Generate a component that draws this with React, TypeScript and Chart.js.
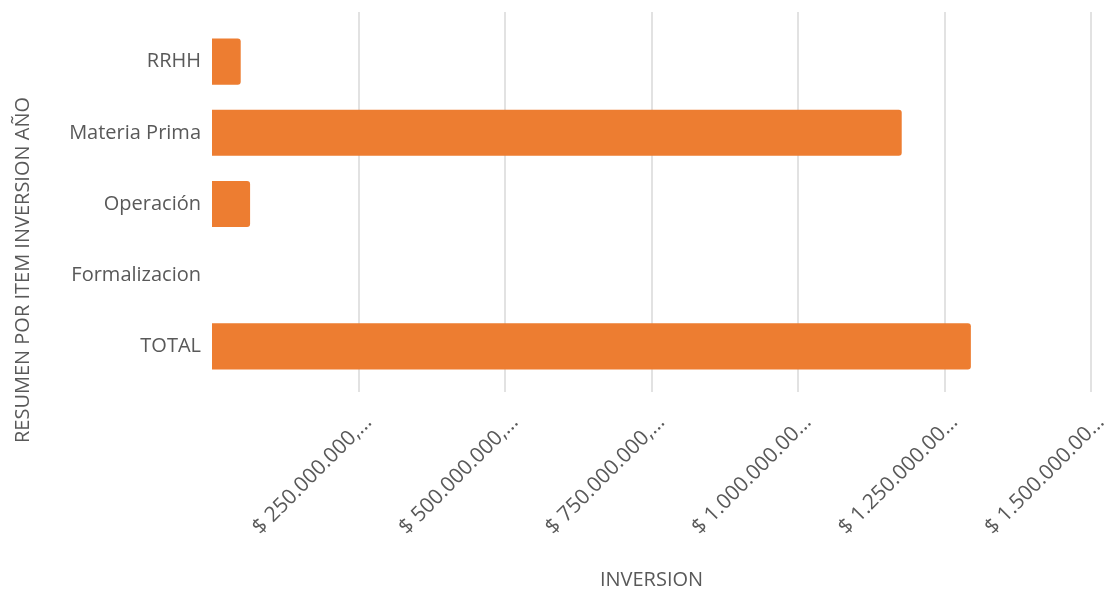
import React, { useEffect, useRef } from 'react';
import { Chart, registerables } from 'chart.js';

Chart.register(...registerables);

// ---- Data ----
const categories: string[] = ['RRHH', 'Materia Prima', 'Operación', 'Formalizacion', 'TOTAL'];
const inversion: number[] = [49000000, 1177000000, 65000000, 0, 1295000000];

// ---- Axis config ----
const xMin = 0;
const xMax = 1500000000;
const xStep = 250000000;
const xTitle = 'INVERSION';
const yTitle = 'RESUMEN POR ITEM INVERSION AÑO';

const FONT = "'Open Sans', 'Noto Sans', sans-serif";
const TEXT = '#595959';
const GRID = '#d9d9d9';
const BAR = '#ED7D31';

function formatMoney(v: number): string {
  const s = String(Math.round(v)).replace(/\B(?=(\d{3})+(?!\d))/g, '.');
  const full = '$ ' + s + ',00';
  return full.length > 14 ? full.slice(0, 14) + '...' : full;
}

const gridPlugin = {
  id: 'extGrid',
  beforeDatasetsDraw(chart: any) {
    const xs = chart.scales.x;
    const ctx = chart.ctx;
    const area = chart.chartArea;
    ctx.save();
    ctx.strokeStyle = GRID;
    ctx.lineWidth = 1.5;
    xs.ticks.forEach((t: any) => {
      if (t.value === 0) return;
      const px = Math.round(xs.getPixelForValue(t.value));
      ctx.beginPath();
      ctx.moveTo(px, area.top - 14);
      ctx.lineTo(px, area.bottom + 10);
      ctx.stroke();
    });
    ctx.restore();
  },
};

const yTitlePlugin = {
  id: 'yTitle',
  afterDraw(chart: any) {
    const ctx = chart.ctx;
    ctx.save();
    ctx.fillStyle = TEXT;
    ctx.font = `20px ${FONT}`;
    ctx.textAlign = 'center';
    ctx.textBaseline = 'middle';
    ctx.translate(23, 270);
    ctx.rotate(-Math.PI / 2);
    ctx.fillText(yTitle, 0, 0);
    ctx.restore();
  },
};

export default function App() {
  const ref = useRef<HTMLCanvasElement | null>(null);

  useEffect(() => {
    if (!ref.current) return;
    const chart = new Chart(ref.current, {
      type: 'bar',
      data: {
        labels: categories,
        datasets: [
          {
            data: inversion,
            backgroundColor: BAR,
            borderRadius: 3,
            borderSkipped: 'start',
            categoryPercentage: 1,
            barPercentage: 0.647,
          },
        ],
      },
      options: {
        indexAxis: 'y',
        animation: false,
        responsive: true,
        maintainAspectRatio: false,
        layout: { padding: { left: 0, top: 26, right: 13, bottom: 0 } },
        plugins: {
          legend: { display: false },
          tooltip: { enabled: false },
        },
        scales: {
          x: {
            type: 'linear',
            min: xMin,
            max: xMax,
            grid: { display: false, drawTicks: false },
            border: { display: false },
            ticks: {
              stepSize: xStep,
              minRotation: 45,
              maxRotation: 45,
              padding: 28,
              labelOffset: 10,
              color: TEXT,
              font: { family: FONT, size: 21 },
              callback: (v: any) => (Number(v) === 0 ? '' : formatMoney(Number(v))),
            },
            title: {
              display: true,
              text: xTitle,
              color: TEXT,
              font: { family: FONT, size: 20 },
              padding: { top: 0, bottom: -3 },
            },
            afterFit: (scale: any) => {
              scale.height = 207;
              scale.paddingLeft = 0;
              scale.paddingRight = 0;
            },
          },
          y: {
            grid: { display: false, drawTicks: false },
            border: { display: false },
            ticks: {
              padding: 11,
              color: TEXT,
              font: { family: FONT, size: 20 },
            },
            afterFit: (scale: any) => {
              scale.width = 212;
            },
          },
        },
      },
      plugins: [gridPlugin, yTitlePlugin],
    });
    return () => chart.destroy();
  }, []);

  return (
    <div style={{ position: 'absolute', left: 0, top: 0, width: 1104, height: 589 }}>
      <canvas ref={ref} />
    </div>
  );
}
